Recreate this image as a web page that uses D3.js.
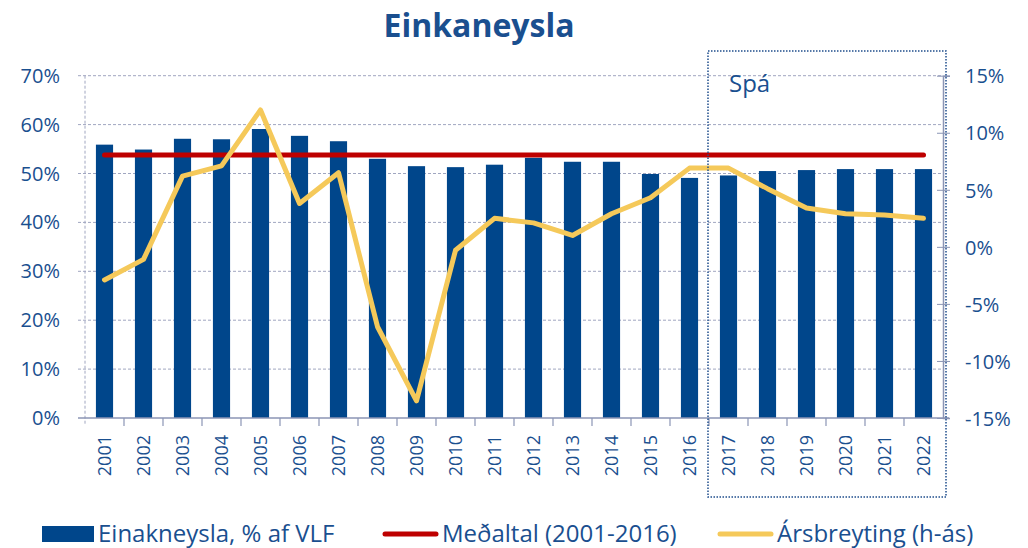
<!DOCTYPE html>
<html>
<head>
<meta charset="utf-8">
<script src="https://cdn.jsdelivr.net/npm/d3@7"></script>
<style>
  body { margin: 0; background: #fff; }
  svg { font-family: "Open Sans", sans-serif; }
</style>
</head>
<body>
<div id="chart"></div>
<script>
// data
const years = ["2001","2002","2003","2004","2005","2006","2007","2008","2009","2010","2011",
  "2012","2013","2014","2015","2016","2017","2018","2019","2020","2021","2022"];
const consumption = [55.9, 54.9, 57.1, 57.0, 59.1, 57.7, 56.6, 53.0, 51.5, 51.3, 51.8,
  53.2, 52.4, 52.4, 49.9, 49.1, 49.6, 50.5, 50.7, 50.9, 50.9, 50.9];
const average = 53.8;
const yearlyChange = [-2.9, -1.1, 6.2, 7.1, 12.0, 3.8, 6.5, -7.0, -13.5, -0.3, 2.5,
  2.1, 1.0, 2.9, 4.3, 6.9, 6.9, 5.1, 3.4, 2.9, 2.8, 2.5];
const leftTicks = [0, 10, 20, 30, 40, 50, 60, 70];
const rightTicks = [-15, -10, -5, 0, 5, 10, 15];
const forecastStart = "2017";

const W = 1028, H = 548;
const blue = "#00468b", red = "#be0000", yellow = "#f5c95a", textBlue = "#1a4f8f", axisGrey = "#8b95b5";

const svg = d3.select("#chart").append("svg")
  .attr("width", W).attr("height", H);

const x = d3.scaleBand().domain(years).range([85, 943]).paddingInner(0.56).paddingOuter(0.28);
const xs = d3.scaleBand().domain(years).range([85, 943]);
const yL = d3.scaleLinear().domain([0, 70]).range([418, 75.7]);
const yR = d3.scaleLinear().domain([-15, 15]).range([418, 75.7]);

// title
svg.append("text")
  .attr("x", 479).attr("y", 37)
  .attr("text-anchor", "middle")
  .attr("font-size", 32).attr("font-weight", "bold")
  .attr("fill", textBlue)
  .text("Einkaneysla");

// gridlines
svg.append("g").selectAll("line")
  .data(leftTicks.filter(d => d > 0))
  .join("line")
  .attr("x1", 78).attr("x2", 943)
  .attr("y1", d => yL(d)).attr("y2", d => yL(d))
  .attr("stroke", "#a0a6c0").attr("stroke-width", 1)
  .attr("stroke-dasharray", "3,2");

// left vertical dashed line
svg.append("line")
  .attr("x1", 85).attr("x2", 85).attr("y1", yL(70)).attr("y2", 424)
  .attr("stroke", "#a0a6c0").attr("stroke-dasharray", "3,2");

// left tick labels
svg.append("g").selectAll("text")
  .data(leftTicks)
  .join("text")
  .attr("x", 60).attr("y", d => yL(d) + 7)
  .attr("text-anchor", "end")
  .attr("font-size", 20).attr("fill", textBlue)
  .text(d => d + "%");

// right axis
const rightAxis = svg.append("g").attr("transform", "translate(943,0)")
  .call(d3.axisRight(yR).tickValues(rightTicks).tickSize(7).tickFormat(d => d + "%"));
rightAxis.select(".domain").attr("stroke", axisGrey).attr("stroke-width", 1.5);
rightAxis.selectAll(".tick line").attr("stroke", axisGrey).attr("x1", -6);
rightAxis.selectAll(".tick text")
  .attr("x", 22).attr("dy", "0.36em")
  .attr("font-size", 20).attr("fill", textBlue)
  .attr("font-family", "Open Sans, sans-serif");

// bars
svg.append("g").selectAll("rect")
  .data(years)
  .join("rect")
  .attr("x", d => x(d))
  .attr("width", x.bandwidth())
  .attr("y", (d, i) => yL(consumption[i]))
  .attr("height", (d, i) => yL(0) - yL(consumption[i]))
  .attr("fill", blue);

// x axis
const xAxis = svg.append("g").attr("transform", "translate(0,418)")
  .call(d3.axisBottom(xs).tickSize(0).tickFormat(d => d));
xAxis.select(".domain").remove();
svg.append("line").attr("x1", 78).attr("x2", 949).attr("y1", 418).attr("y2", 418)
  .attr("stroke", axisGrey).attr("stroke-width", 1.5);
svg.append("g").selectAll("line")
  .data(years.slice(1))
  .join("line")
  .attr("x1", d => xs(d)).attr("x2", d => xs(d))
  .attr("y1", 418).attr("y2", 426)
  .attr("stroke", axisGrey).attr("stroke-width", 1.2);
xAxis.selectAll(".tick text")
  .attr("transform", "rotate(-90)")
  .attr("x", -17).attr("y", 0).attr("dy", "0.36em")
  .attr("text-anchor", "end")
  .attr("font-size", 18).attr("fill", textBlue)
  .attr("font-family", "Open Sans, sans-serif");

// average line
svg.append("line")
  .attr("x1", xs(years[0]) + xs.bandwidth() / 2)
  .attr("x2", xs(years[years.length - 1]) + xs.bandwidth() / 2)
  .attr("y1", yL(average)).attr("y2", yL(average))
  .attr("stroke", red).attr("stroke-width", 5).attr("stroke-linecap", "round");

// yearly change line
const line = d3.line()
  .x((d, i) => xs(years[i]) + xs.bandwidth() / 2)
  .y(d => yR(d));
svg.append("path")
  .datum(yearlyChange)
  .attr("d", line)
  .attr("fill", "none")
  .attr("stroke", yellow).attr("stroke-width", 5)
  .attr("stroke-linecap", "round").attr("stroke-linejoin", "round");

// forecast box
const fx = xs(forecastStart) - 1;
svg.append("rect")
  .attr("x", fx).attr("y", 51)
  .attr("width", 946 - fx).attr("height", 446)
  .attr("fill", "none")
  .attr("stroke", "#1f4e8c").attr("stroke-width", 1.5)
  .attr("stroke-dasharray", "1.5,1.5");
svg.append("text")
  .attr("x", fx + 21).attr("y", 92)
  .attr("font-size", 24).attr("fill", textBlue)
  .text("Spá");

// legend
const legend = svg.append("g").attr("font-size", 24).attr("fill", textBlue);
legend.append("rect").attr("x", 42).attr("y", 526).attr("width", 52).attr("height", 16).attr("fill", blue);
legend.append("text").attr("x", 98).attr("y", 542).text("Einakneysla, % af VLF");
legend.append("line").attr("x1", 385).attr("x2", 436).attr("y1", 534).attr("y2", 534)
  .attr("stroke", red).attr("stroke-width", 5).attr("stroke-linecap", "round");
legend.append("text").attr("x", 442).attr("y", 542).text("Meðaltal (2001-2016)");
legend.append("line").attr("x1", 720).attr("x2", 771).attr("y1", 534).attr("y2", 534)
  .attr("stroke", yellow).attr("stroke-width", 5).attr("stroke-linecap", "round");
legend.append("text").attr("x", 777).attr("y", 542).text("Ársbreyting (h-ás)");
</script>
</body>
</html>
